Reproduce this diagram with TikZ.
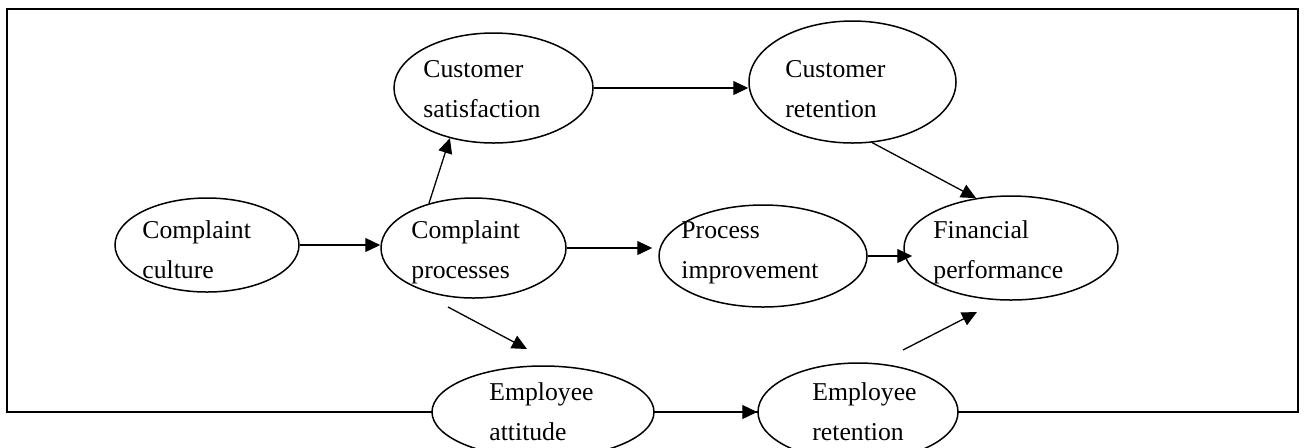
\documentclass[tikz,border=0pt]{standalone}
\usepackage{fontspec}
\setmainfont{Liberation Serif}
\usetikzlibrary{arrows.meta,shapes.geometric}

\tikzset{
  oval/.style={ellipse, draw, fill=white, line width=0.75pt, inner sep=0pt},
  lbl/.style={anchor=base west, align=left, inner sep=0pt, font=\fontsize{12.85}{20}\selectfont},
  link/.style={line width=0.65pt, -{Triangle[length=7.5pt,width=7pt]}}
}

\begin{document}
\begin{tikzpicture}[x=0.5pt,y=-0.5pt]
\useasboundingbox (0,0) rectangle (1306,447);
\draw[line width=1.25pt] (7,9) rectangle (1298,412);

% ovals
\node[oval, minimum width=92pt, minimum height=47pt] (culture) at (207,245) {};
\node[oval, minimum width=92.5pt, minimum height=50pt] (process) at (473.5,248) {};
\node[oval, minimum width=99.5pt, minimum height=55pt] (custsat) at (493.5,88) {};
\node[oval, minimum width=103.5pt, minimum height=61pt] (custret) at (852.5,82) {};
\node[oval, minimum width=104pt, minimum height=51pt] (improve) at (763,256) {};
\node[oval, minimum width=107pt, minimum height=52pt] (finance) at (1011,248) {};
\node[oval, minimum width=111pt, minimum height=46pt] (empatt) at (543,412) {};
\node[oval, minimum width=100pt, minimum height=49pt] (empret) at (858,412) {};

% texts (anchored on the second line)
\node[lbl] (culture-t) at (142,278) {Complaint\\culture};
\node[lbl] (process-t) at (411,278) {Complaint\\processes};
\node[lbl] (custsat-t) at (423,117) {Customer\\satisfaction};
\node[lbl] (custret-t) at (785,117) {Customer\\retention};
\node[lbl] (improve-t) at (681,278) {Process\\improvement};
\node[lbl] (finance-t) at (933,278) {Financial\\performance};
\node[lbl] (empatt-t) at (489,440) {Employee\\attitude};
\node[lbl] (empret-t) at (812,440) {Employee\\retention};

% free arrow ends
\coordinate (att-from) at (448,307);
\coordinate (att-to) at (527,349);
\coordinate (ret-from) at (903,350);
\coordinate (ret-to) at (977,312);

% arrows
\draw[link] (culture.east) -- (culture.east -| process.west);
\draw[link] (process.135) -- (custsat.229);
\draw[link] (custsat.east) -- (custsat.east -| custret.west);
\draw[link, shorten >=3pt] (process.east) -- (process.east -| improve.west);
\draw[link, shorten >=-4.5pt] (improve.east) -- (improve.east -| finance.west);
\draw[link] (custret.288) -- (finance.125);
\draw[link] (att-from) -- (att-to);
\draw[link] (empatt.east) -- (empret.west);
\draw[link] (ret-from) -- (ret-to);
\end{tikzpicture}
\end{document}
